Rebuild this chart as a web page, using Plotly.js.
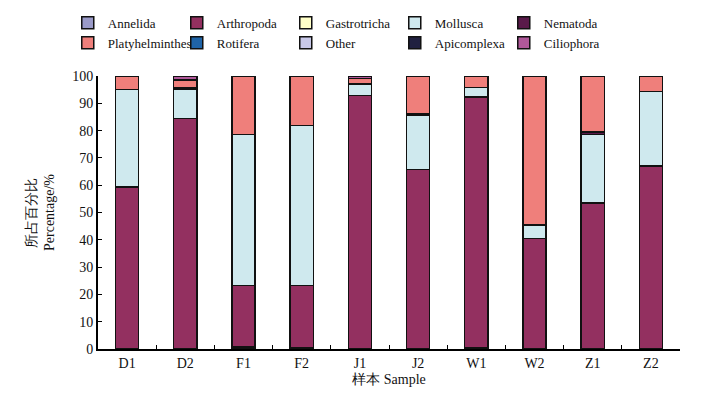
<!DOCTYPE html>
<html><head><meta charset="utf-8">
<script src="https://cdn.plot.ly/plotly-3.0.1.min.js"></script>
<style>body{margin:0;padding:0;background:#fff}#chart{width:721px;height:395px}</style>
</head><body><div id="chart"></div>
<script>
var samples = ['D1','D2','F1','F2','J1','J2','W1','W2','Z1','Z2'];
var groupNames = ['Annelida','Arthropoda','Gastrotricha','Mollusca','Nematoda','Platyhelminthes','Rotifera','Other','Apicomplexa','Ciliophora'];
var groupColors = ['#9a9ac8','#933060','#ffffc8','#cfe9ee','#5a1a4a','#ef7f7b','#1f64a8','#c8c8e8','#202040','#b0589a'];
var annelida      = [0,   0,   0.7, 0.3, 0,   0,   0.5, 0,   0,   0];
var arthropoda    = [59.3,84.5,22.6,22.9,92.8,65.8,91.8,40.5,53.5,67.0];
var gastrotricha  = [0,   0,   0,   0,   0,   0,   0,   0,   0,   0];
var mollusca      = [35.7,10.8,55.2,58.6,4.0, 20.0,3.5, 4.8, 25.1,27.3];
var nematoda      = [0,   0.3, 0,   0,   0.3, 0.5, 0,   0.3, 0.8, 0];
var platyhelminthes=[5.0, 3.0, 21.5,18.2,2.0, 13.7,4.2, 54.4,20.6,5.7];
var rotifera      = [0,   0,   0,   0,   0,   0,   0,   0,   0,   0];
var other         = [0,   0,   0,   0,   0,   0,   0,   0,   0,   0];
var apicomplexa   = [0,   0,   0,   0,   0,   0,   0,   0,   0,   0];
var ciliophora    = [0,   1.4, 0,   0,   0.9, 0,   0,   0,   0,   0];
var yTicks = [0,10,20,30,40,50,60,70,80,90,100];

var series = [annelida, arthropoda, gastrotricha, mollusca, nematoda, platyhelminthes, rotifera, other, apicomplexa, ciliophora];
var font = "Liberation Serif";
var traces = series.map(function(vals, i){
  return {type:'bar', name: groupNames[i], x: samples,
    y: vals.map(function(v){ return v === 0 ? null : v; }),
    marker:{color: groupColors[i], line:{color:'#111', width:1.5}},
    width: 0.4, hoverinfo:'skip'};
});
var layout = {
  width:721, height:395, barmode:'stack',
  paper_bgcolor:'#fff', plot_bgcolor:'#fff',
  margin:{l:98, r:41, t:76, b:46},
  font:{family:font, size:14, color:'#111'},
  showlegend:true,
  legend:{orientation:'h', x:0.094, xref:'container', xanchor:'left', y:0.98, yref:'container', yanchor:'top',
    entrywidth:64, entrywidthmode:'pixels', traceorder:'normal',
    font:{family:font, size:13, color:'#111'}, itemwidth:20, tracegroupgap:0},
  xaxis:{type:'category', showline:true, linecolor:'#000', linewidth:2,
    ticks:'inside', ticklen:4, tickcolor:'#000', tickson:'boundaries',
    tickfont:{family:font, size:14, color:'#111'},
    title:{text:'样本 Sample', font:{family:font, size:14, color:'#111'}, standoff:4}, mirror:false},
  yaxis:{range:[0,100], tickvals:yTicks, showline:true, linecolor:'#000', linewidth:2,
    ticks:'inside', ticklen:4, tickcolor:'#000', showgrid:false, zeroline:false,
    tickfont:{family:font, size:14, color:'#111'},
    title:{text:'所占百分比<br>Percentage/%', font:{family:font, size:14, color:'#111'}, standoff:14}}
};
Plotly.newPlot('chart', traces, layout, {displayModeBar:false, staticPlot:true});
</script></body></html>
